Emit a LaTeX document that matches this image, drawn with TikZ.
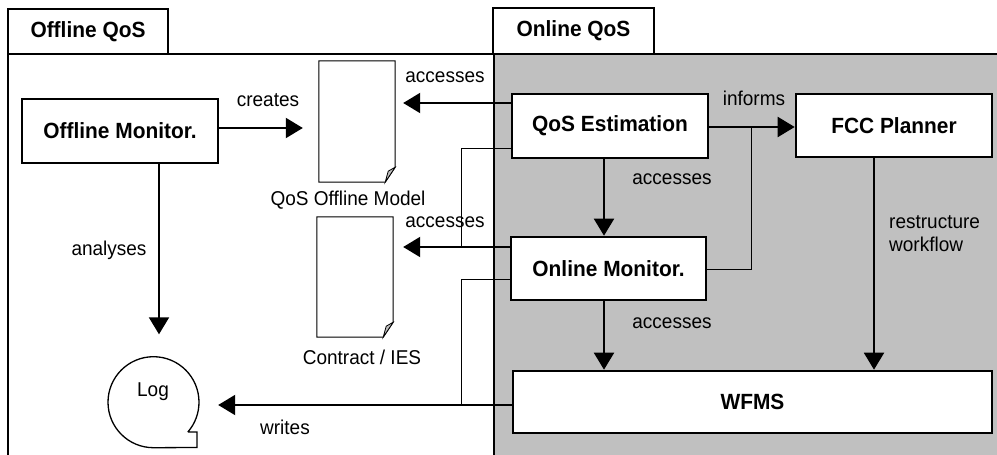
\documentclass[tikz,border=0pt]{standalone}
\usepackage{fontspec}
\setmainfont[FakeStretch=0.95]{Liberation Sans}
\usetikzlibrary{arrows.meta}
\definecolor{onlinegray}{RGB}{192,192,192}
\definecolor{foldgray}{RGB}{190,190,190}
\tikzset{
  box/.style={draw, line width=2.6pt, fill=white, font=\fontsize{22}{24}\selectfont\bfseries, inner sep=0pt},
  tabbox/.style={draw, line width=2pt, fill=white, font=\fontsize{22}{24}\selectfont\bfseries, inner sep=0pt},
  lbl/.style={font=\fontsize{20}{23}\selectfont, inner sep=0pt},
  docnode/.style={minimum width=76pt, inner sep=0pt},
  arr/.style={line width=2pt, -{Triangle[length=17pt,width=20pt]}},
  thin/.style={line width=1pt},
  frame/.style={line width=2pt},
}
\begin{document}
\begin{tikzpicture}[x=1pt,y=1pt]
\useasboundingbox (0,0) rectangle (997,-455);
% online background
\fill[onlinegray] (494,-54) rectangle (997,-455);
% frames
\draw[frame] (8,-455) -- (8,-54) -- (997,-54);
\draw[frame] (494,-455) -- (494,-54);
\node[tabbox, minimum width=160pt, minimum height=45pt] (tabOff) at (88,-31.5) {Offline QoS};
\node[tabbox, minimum width=161pt, minimum height=46pt] (tabOn) at (573.5,-31) {Online QoS};

% boxes
\node[box, minimum width=196pt, minimum height=64pt] (omon) at (120,-131) {Offline Monitor.};
\node[box, minimum width=196pt, minimum height=64pt] (qos) at (610,-126) {QoS Estimation};
\node[box, minimum width=195pt, minimum height=63pt] (onmon) at (608.5,-268.5) {Online Monitor.};
\node[box, minimum width=196pt, minimum height=63pt] (fcc) at (894,-125.5) {FCC Planner};
\node[box, minimum width=479pt, minimum height=62pt] (wfms) at (752.5,-402) {WFMS};

% documents
\node[docnode, minimum height=121pt] (doc1) at (357,-121.5) {};
\node[docnode, minimum height=120pt] (doc2) at (355,-277) {};
\foreach \d in {doc1,doc2}{
  \draw[line width=1pt, fill=white] (\d.north west) -- (\d.north east)
     -- ([yshift=15pt]\d.south east) -- ([xshift=-10pt]\d.south east)
     -- (\d.south west) -- cycle;
  \draw[line width=0.8pt, fill=foldgray] ([yshift=15pt]\d.south east)
     -- ([xshift=-7pt,yshift=11pt]\d.south east) -- ([xshift=-10pt]\d.south east) -- cycle;
}
\node[lbl] (doc1lbl) at (348,-200) {QoS Offline Model};
\node[lbl] (doc2lbl) at (362,-357) {Contract / IES};

% log
\node[circle, minimum size=91pt, inner sep=0pt] (log) at (153.5,-402) {};
\draw[line width=1.3pt] (log.-41) -- (197,-432) -- (197,-447.5) -- (log.south)
   arc[start angle=270, end angle=-41, radius=45.5];
\node[lbl] (logtxt) at (153,-392) {Log};

% connectors
\coordinate (c1) at ([yshift=3pt]omon.east);
\draw[arr, shorten >=16pt] (c1) -- (c1 -| doc1.west);
\coordinate (c2) at ([yshift=23pt]qos.west);
\draw[arr, shorten >=8pt] (c2) -- (c2 -| doc1.east);
\coordinate (c3) at ([yshift=21.5pt]onmon.west);
\draw[arr, shorten >=10pt] (c3) -- (c3 -| doc2.east);
\coordinate (c4) at ([yshift=-22pt]qos.west);
\draw[thin] (c4) -- (461,-148) -- (461,-247);
\coordinate (c5) at ([yshift=-10.5pt]onmon.west);
\draw[thin] (c5) -- (461,-279) -- (461,-405);
\coordinate (c6) at ([yshift=-3pt]wfms.west);
\draw[arr, shorten >=19pt] (c6) -- (c6 -| log.east);
\coordinate (c7) at ([yshift=-1pt]qos.east);
\draw[arr] (c7) -- (c7 -| fcc.west);
\coordinate (c8) at ([yshift=-0.5pt]onmon.east);
\draw[thin] (c8) -- (751,-269) -- (751,-127);
\coordinate (c9) at ([xshift=-6pt]qos.south);
\draw[arr] (c9) -- (c9 |- onmon.north);
\coordinate (c10) at ([xshift=-4.5pt]onmon.south);
\draw[arr] (c10) -- (c10 |- wfms.north);
\coordinate (c11) at ([xshift=-20pt]fcc.south);
\draw[arr] (c11) -- (c11 |- wfms.north);
\coordinate (c12) at ([xshift=39pt]omon.south);
\draw[arr, shorten >=22pt] (c12) -- (c12 |- log.north);

% labels
\node[lbl] (lcreates) at (268,-100) {creates};
\node[lbl] (lacc1) at (445,-77) {accesses};
\node[lbl] (lacc2) at (445,-222) {accesses};
\node[lbl] (lanalyses) at (109,-250) {analyses};
\node[lbl] (lwrites) at (285,-427) {writes};
\node[lbl] (linforms) at (754,-98) {informs};
\node[lbl] (lacc3) at (672,-179) {accesses};
\node[lbl] (lacc4) at (672,-323) {accesses};
\node[lbl, align=left, anchor=west, font=\fontsize{20}{23.5}\selectfont] (lrestr) at (889,-233.5) {restructure\\workflow};
\end{tikzpicture}
\end{document}
